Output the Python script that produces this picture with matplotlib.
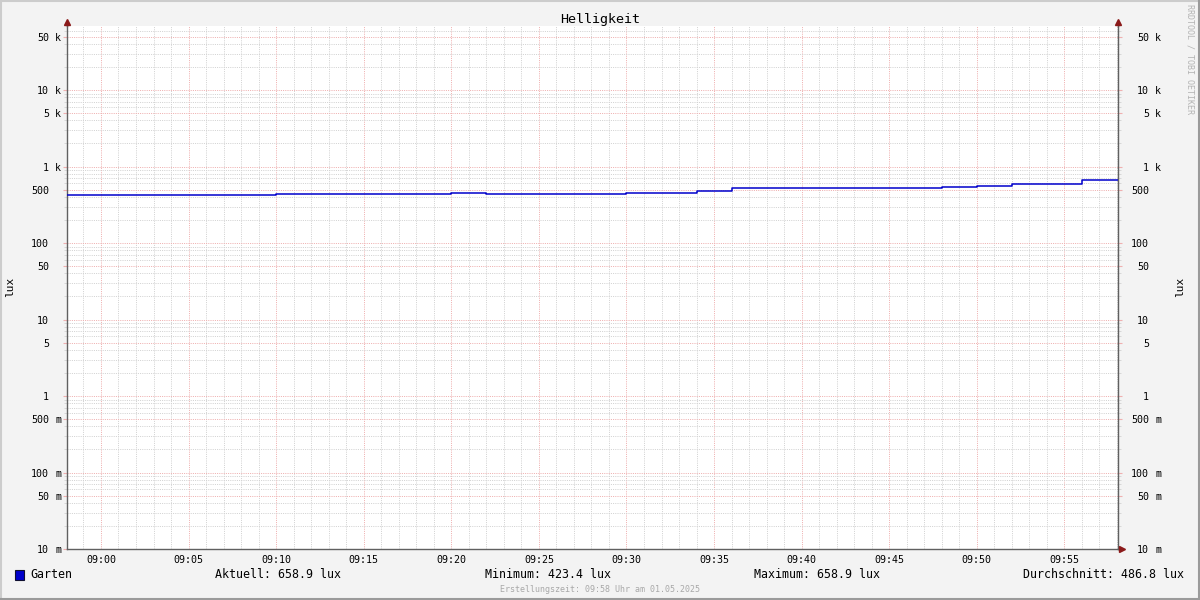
import matplotlib
matplotlib.use('Agg')
import matplotlib.pyplot as plt
from matplotlib.ticker import LogLocator, MultipleLocator, NullFormatter
from matplotlib.patches import Rectangle
from matplotlib.lines import Line2D

# minutes after 09:00 where a new value starts (step 'post'), last entry closes the line
step_min = [-1.94, 10, 20, 22, 30, 34, 36, 48, 50, 52, 56, 58.06]
lux = [423.4, 433, 446, 433, 454, 483, 519, 535, 556, 585, 658.9, 658.9]

x_ticks = [0, 5, 10, 15, 20, 25, 30, 35, 40, 45, 50, 55]
x_labels = ['09:00', '09:05', '09:10', '09:15', '09:20', '09:25',
            '09:30', '09:35', '09:40', '09:45', '09:50', '09:55']

y_ticks = [0.01, 0.05, 0.1, 0.5, 1, 5, 10, 50, 100, 500, 1000, 5000, 10000, 50000]
y_nums = ['10', '50', '100', '500', '1', '5', '10', '50', '100', '500', '1', '5', '10', '50']
y_units = ['m', 'm', 'm', 'm', '', '', '', '', '', '', 'k', 'k', 'k', 'k']

title = 'Helligkeit'
series_name = 'Garten'
stats = ['Aktuell: 658.9 lux', 'Minimum: 423.4 lux', 'Maximum: 658.9 lux', 'Durchschnitt: 486.8 lux']
footer = 'Erstellungszeit: 09:58 Uhr am 01.05.2025'

W, H = 1200, 600
mono = 'DejaVu Sans Mono'
grid_gray = '#d2d2d2'
grid_red = '#efb0b0'
axis_col = '#606060'
arrow_col = '#8b1a1a'


def fx(px):
    return px / W


def fy(py):
    return 1 - py / H


fig = plt.figure(figsize=(12, 6), dpi=100, facecolor='#f3f3f3')
ax = fig.add_axes([fx(67), fy(549), fx(1118) - fx(67), fy(26) - fy(549)])
ax.set_facecolor('white')

ax.step(step_min, lux, where='post', color='#0000cc', linewidth=1.1, zorder=3)

ax.set_yscale('log')
ax.set_ylim(0.01, 10 ** 4.837)
ax.set_xlim(-1.94, 58.06)

# grid
ax.set_xticks(x_ticks)
ax.xaxis.set_minor_locator(MultipleLocator(1))
ax.set_xticklabels(x_labels, fontsize=7.2, family=mono)
ax.yaxis.set_major_locator(LogLocator(base=10, subs=(1.0, 5.0), numticks=20))
ax.yaxis.set_minor_locator(LogLocator(base=10, subs=(2, 3, 4, 6, 7, 8, 9), numticks=20))
ax.yaxis.set_major_formatter(NullFormatter())
ax.yaxis.set_minor_formatter(NullFormatter())

ax.grid(which='minor', color=grid_gray, linestyle=(0, (1, 1.2)), linewidth=0.72, zorder=0)
ax.grid(which='major', color=grid_red, linestyle=(0, (1, 1.2)), linewidth=0.72, zorder=1)
ax.set_axisbelow(True)

ax.tick_params(axis='x', which='both', length=0, pad=4, colors='#000000')
ax.tick_params(axis='y', which='major', length=3, color=grid_red, left=True, right=True)
ax.tick_params(axis='y', which='minor', length=2, color=grid_gray, left=True, right=True)

for s in ['left', 'right', 'bottom']:
    ax.spines[s].set_color(axis_col)
    ax.spines[s].set_linewidth(1)
ax.spines['top'].set_visible(False)

# y labels, number and unit split as in rrdtool
for v, n, u in zip(y_ticks, y_nums, y_units):
    for xn, xu in [((49 - 67) / 1051, (55 - 67) / 1051), ((1149 - 67) / 1051, (1155 - 67) / 1051)]:
        ax.text(xn, v, n, transform=ax.get_yaxis_transform(), ha='right', va='center_baseline',
                fontsize=7.2, family=mono, clip_on=False)
        if u:
            ax.text(xu, v, u, transform=ax.get_yaxis_transform(), ha='left', va='center_baseline',
                    fontsize=7.2, family=mono, clip_on=False)

# axis arrows
for px in [67, 1118]:
    fig.add_artist(Line2D([fx(px), fx(px)], [fy(26), fy(22)], color=axis_col, lw=1))
    fig.add_artist(Line2D([fx(px)], [fy(22)], marker='^', ms=4.5, color=arrow_col, lw=0))
fig.add_artist(Line2D([fx(1118), fx(1121)], [fy(549), fy(549)], color=axis_col, lw=1))
fig.add_artist(Line2D([fx(1122)], [fy(549)], marker='>', ms=4.5, color=arrow_col, lw=0))

fig.text(fx(600), fy(19), title, ha='center', va='center', fontsize=9.6, family=mono)
fig.text(fx(10), fy(287), 'lux', rotation=90, ha='center', va='center', fontsize=8, family=mono)
fig.text(fx(1180), fy(287), 'lux', rotation=90, ha='center', va='center', fontsize=8, family=mono)
fig.text(fx(1190), fy(4), 'RRDTOOL / TOBI OETIKER', rotation=270, ha='center', va='top',
         fontsize=6, family=mono, color='#b4b4b4')

# legend line
fig.add_artist(Rectangle((fx(15), fy(580)), 9 / W, 10 / H, transform=fig.transFigure,
                         facecolor='#0000cc', edgecolor='#101030', lw=0.8))
fig.text(fx(30), fy(575), series_name, ha='left', va='center', fontsize=8.4, family=mono)
fig.text(fx(215), fy(575), stats[0], ha='left', va='center', fontsize=8.4, family=mono)
fig.text(fx(485), fy(575), stats[1], ha='left', va='center', fontsize=8.4, family=mono)
fig.text(fx(754), fy(575), stats[2], ha='left', va='center', fontsize=8.4, family=mono)
fig.text(fx(1184), fy(575), stats[3], ha='right', va='center', fontsize=8.4, family=mono)
fig.text(fx(600), fy(589), footer, ha='center', va='center', fontsize=6, family=mono, color='#a8a8a8')

# frame around the whole image
fig.add_artist(Line2D([0, 1], [fy(1), fy(1)], color='#cccccc', lw=1.5))
fig.add_artist(Line2D([fx(1), fx(1)], [0, 1], color='#cccccc', lw=1.5))
fig.add_artist(Line2D([0, 1], [fy(599), fy(599)], color='#9a9a9a', lw=1.5))
fig.add_artist(Line2D([fx(1199), fx(1199)], [0, 1], color='#9a9a9a', lw=1.5))

plt.savefig('out.png', dpi=100, facecolor=fig.get_facecolor())
